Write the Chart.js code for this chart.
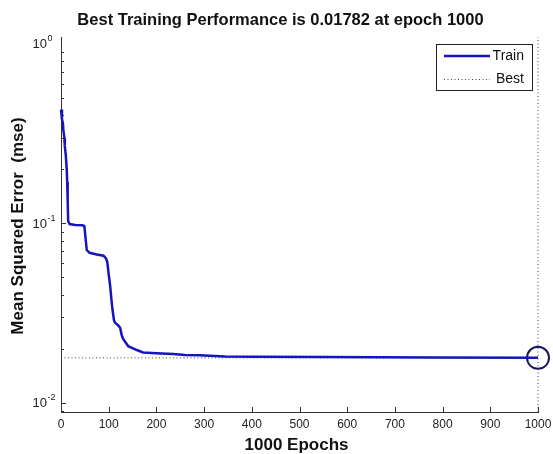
<!DOCTYPE html>
<html>
<head>
<meta charset="utf-8">
<script src="https://cdn.jsdelivr.net/npm/chart.js@4.4.1/dist/chart.umd.min.js"></script>
<style>
  html, body { margin: 0; padding: 0; background: #fff; }
  #wrap { width: 553px; height: 454px; }
</style>
</head>
<body>
<div id="wrap"><canvas id="perfChart" width="553" height="454"></canvas></div>
<script>
// values
const epochs = [0, 2, 4, 5, 7, 8, 10, 12, 13, 14, 15, 18, 30, 45, 49, 51, 54, 60, 75, 89, 94, 97,
  100, 103, 106, 108, 111, 113, 120, 124, 127, 130, 141, 159, 172, 200, 235, 260, 291, 344,
  413, 553, 780, 1000];
const trainMse = [0.43, 0.38, 0.36, 0.33, 0.30, 0.27, 0.24, 0.20, 0.17, 0.135, 0.103, 0.099,
  0.098, 0.0975, 0.0965, 0.085, 0.071, 0.0685, 0.067, 0.066, 0.064, 0.061,
  0.052, 0.045, 0.037, 0.033, 0.029, 0.028, 0.027, 0.0262, 0.024, 0.0228, 0.0207, 0.0197,
  0.0191, 0.0189, 0.0187, 0.0185, 0.0184, 0.01815, 0.0181, 0.0180, 0.0179, 0.01782];
const bestEpoch = 1000;
const bestMse = 0.01782;

const xTicks = [0, 100, 200, 300, 400, 500, 600, 700, 800, 900, 1000];
const yDecades = [0.01, 0.1, 1];
const yDecadeExp = ["-2", "-1", "0"];
const yMin = 0.0089;
const yMax = 1.09;

const titleText = "Best Training Performance is 0.01782 at epoch 1000";
const xTitle = "1000 Epochs";
const yTitle = "Mean Squared Error  (mse)";
const legendNames = ["Train", "Best"];

const BLUE = "#1414c0";
const NAVY = "#15155e";
const AXIS = "#333333";
const DOTS = "#444444";
const FONT = '"Liberation Sans", Arial, sans-serif';
const NARROW = '"Liberation Sans Narrow", "Liberation Sans", Arial, sans-serif';

// minor ticks for the log axis (1..9 per decade)
const yMinor = [];
[0.001, 0.01, 0.1].forEach(d => {
  for (let k = 1; k <= 9; k++) {
    const v = k * d;
    if (v >= yMin && v <= yMax) yMinor.push(v);
  }
});

const matlabLook = {
  id: "matlabLook",
  afterDraw(chart) {
    const { ctx, chartArea: a, scales: { x, y } } = chart;
    ctx.save();

    // inward tick marks
    ctx.strokeStyle = AXIS;
    ctx.lineWidth = 1;
    ctx.beginPath();
    xTicks.forEach(v => {
      const px = Math.round(x.getPixelForValue(v)) + 0.5;
      ctx.moveTo(px, a.bottom);
      ctx.lineTo(px, a.bottom - 5);
    });
    yMinor.forEach(v => {
      const py = Math.round(y.getPixelForValue(v)) + 0.5;
      const len = yDecades.some(d => Math.abs(d - v) < 1e-9) ? 5 : 3;
      ctx.moveTo(a.left, py);
      ctx.lineTo(a.left + len, py);
    });
    ctx.stroke();

    // tick labels
    ctx.fillStyle = "#222";
    ctx.font = "12px " + NARROW;
    ctx.textAlign = "center";
    ctx.textBaseline = "middle";
    xTicks.forEach(v => {
      ctx.fillText(String(v), x.getPixelForValue(v), a.bottom + 13);
    });
    yDecades.forEach((v, i) => {
      const py = y.getPixelForValue(v);
      ctx.font = "13px " + NARROW;
      ctx.textAlign = "right";
      ctx.fillText("10", 47, py + 1);
      ctx.font = "9px " + NARROW;
      ctx.textAlign = "left";
      ctx.fillText(yDecadeExp[i], 47.5, py - 5);
    });

    // titles
    ctx.fillStyle = "#111";
    ctx.font = "bold 16.5px " + FONT;
    ctx.textAlign = "center";
    ctx.textBaseline = "alphabetic";
    ctx.fillText(titleText, 280.5, 25);
    ctx.font = "bold 17px " + FONT;
    ctx.fillText(xTitle, 296.5, 450);
    ctx.save();
    ctx.translate(23, 226);
    ctx.rotate(-Math.PI / 2);
    ctx.fillText(yTitle, 0, 0);
    ctx.restore();

    // legend
    ctx.fillStyle = "#fff";
    ctx.fillRect(436, 44, 96, 46);
    ctx.strokeStyle = "#222";
    ctx.lineWidth = 1;
    ctx.strokeRect(436.5, 44.5, 96, 46);
    ctx.strokeStyle = BLUE;
    ctx.lineWidth = 2.5;
    ctx.beginPath();
    ctx.moveTo(444, 56);
    ctx.lineTo(490, 56);
    ctx.stroke();
    ctx.strokeStyle = DOTS;
    ctx.lineWidth = 1;
    ctx.setLineDash([1, 2.5]);
    ctx.beginPath();
    ctx.moveTo(444, 79.5);
    ctx.lineTo(490, 79.5);
    ctx.stroke();
    ctx.setLineDash([]);
    ctx.fillStyle = "#111";
    ctx.font = "14px " + FONT;
    ctx.textAlign = "right";
    ctx.textBaseline = "middle";
    ctx.fillText(legendNames[0], 524, 56);
    ctx.fillText(legendNames[1], 524, 79);

    ctx.restore();
  }
};

const trainPts = epochs.map((e, i) => ({ x: e, y: trainMse[i] }));

new Chart(document.getElementById("perfChart"), {
  type: "line",
  data: {
    datasets: [
      {
        label: legendNames[0],
        data: trainPts,
        borderColor: BLUE,
        borderWidth: 2.5,
        pointRadius: 0,
        tension: 0,
        clip: false
      },
      {
        label: legendNames[1],
        data: [{ x: 0, y: bestMse }, { x: bestEpoch, y: bestMse }],
        borderColor: DOTS,
        borderWidth: 1,
        borderDash: [1, 2.5],
        pointRadius: 0,
        clip: false
      },
      {
        label: "best epoch",
        data: [{ x: bestEpoch, y: yMin }, { x: bestEpoch, y: yMax }],
        borderColor: DOTS,
        borderWidth: 1,
        borderDash: [1, 2.5],
        pointRadius: 0,
        clip: false
      },
      {
        label: "best point",
        data: [{ x: bestEpoch, y: bestMse }],
        showLine: false,
        pointRadius: 11,
        pointBorderWidth: 2,
        pointBorderColor: NAVY,
        pointBackgroundColor: "rgba(0,0,0,0)",
        clip: false
      }
    ]
  },
  options: {
    responsive: false,
    animation: false,
    devicePixelRatio: 1,
    layout: { padding: { top: 37, right: 15, left: 0, bottom: 0 } },
    plugins: {
      legend: { display: false },
      title: { display: false },
      tooltip: { enabled: false }
    },
    scales: {
      x: {
        type: "linear",
        min: 0,
        max: 1000,
        grid: { display: false },
        ticks: { display: false },
        border: { color: AXIS, width: 1 },
        afterFit: s => { s.height = 42; }
      },
      y: {
        type: "logarithmic",
        min: yMin,
        max: yMax,
        grid: { display: false },
        ticks: { display: false },
        border: { color: AXIS, width: 1 },
        afterFit: s => { s.width = 61; }
      }
    }
  },
  plugins: [matlabLook]
});
</script>
</body>
</html>
